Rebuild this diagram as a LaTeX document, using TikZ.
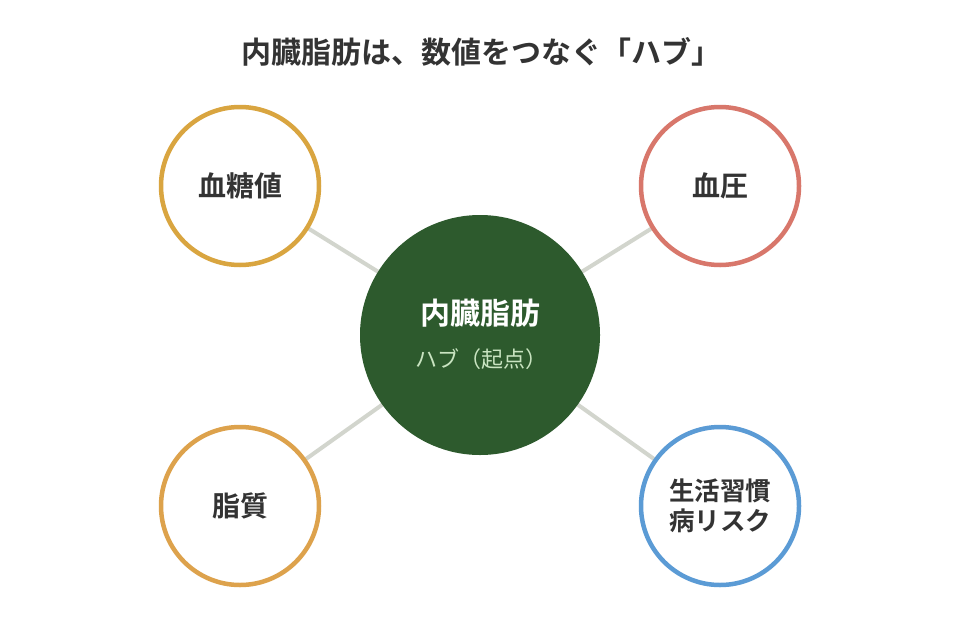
\documentclass[tikz,border=0pt]{standalone}
\usepackage{fontspec}
\setmainfont{Noto Sans CJK JP}
\newfontfamily\jpbold{Noto Sans CJK JP Bold}
\usetikzlibrary{positioning,backgrounds}
\definecolor{hubgreen}{HTML}{2D5A2D}
\definecolor{subgreen}{HTML}{C9E4C1}
\definecolor{goldring}{HTML}{D9A540}
\definecolor{orangering}{HTML}{DDA24C}
\definecolor{redring}{HTML}{D8776B}
\definecolor{bluering}{HTML}{5B9BD5}
\definecolor{linkgray}{HTML}{D2D5CD}
\definecolor{textdark}{HTML}{333333}
\tikzset{
  ring/.style={circle,draw,line width=4.5pt,fill=white,minimum size=158pt,inner sep=0pt,
    align=center,text=textdark,font=\jpbold\fontsize{28}{32}\selectfont},
  link/.style={draw=linkgray,line width=4pt}
}

\begin{document}
\begin{tikzpicture}[x=1pt,y=-1pt]
    \useasboundingbox (0,0) rectangle (960,640);
    \node[font=\jpbold\fontsize{30}{34}\selectfont,text=textdark] (title) at (481,52) {内臓脂肪は、数値をつなぐ「ハブ」};
    % hub and satellites
    \node[circle,fill=hubgreen,minimum size=240pt,inner sep=0pt] (hub) at (480,335) {};
    \node[text=white,font=\jpbold\fontsize{30}{34}\selectfont] (hubname) at (480,313) {内臓脂肪};
    \node[text=subgreen,font=\fontsize{22}{26}\selectfont] (hubsub) at (481,359) {ハブ（起点）};
    \node[ring,draw=goldring] (sugar) at (240,186) {血糖値};
    \node[ring,draw=redring] (press) at (720,186) {血圧};
    \node[ring,draw=orangering] (lipid) at (240,506) {脂質};
    \node[ring,draw=bluering,font=\jpbold\fontsize{25.5}{30}\selectfont] (life) at (720,506) {生活習慣\\病リスク};
    \begin{scope}[on background layer]
    \fill[white] (0,0) rectangle (960,640);
    \path[link] (hub.center) -- (sugar.center);
    \path[link] (hub.center) -- (press.center);
    \path[link] (hub.center) -- (lipid.center);
    \path[link] (hub.center) -- (life.center);
    \end{scope}
\end{tikzpicture}
\end{document}
